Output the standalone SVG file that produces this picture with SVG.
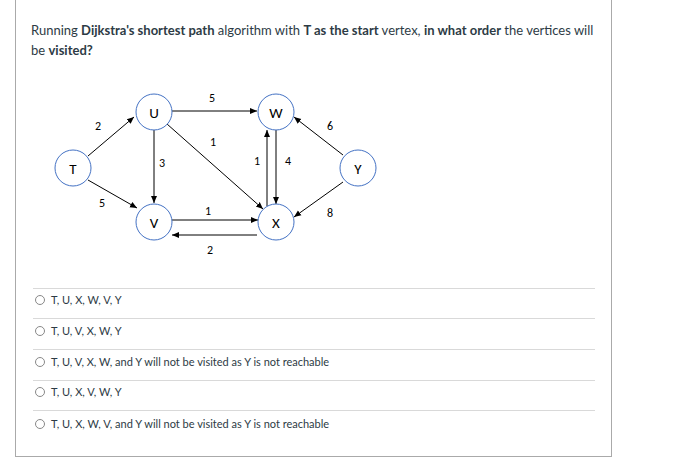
<svg xmlns="http://www.w3.org/2000/svg" width="674" height="461" viewBox="0 0 674 461">
<style>
.q{font-family:Lato,"Liberation Sans",sans-serif;font-size:13px;fill:#2d3b45}
.o{font-family:Lato,"Liberation Sans",sans-serif;font-size:11px;fill:#2d3b45}
.n circle{fill:#fff;stroke:#4472c4;stroke-width:1}
.n text,.l{font-family:Calibri,Carlito,"Liberation Sans",sans-serif;text-anchor:middle}
.n text{font-size:15px;fill:#000}
.l{font-size:12px;fill:#000}
.e line{stroke:#000;stroke-width:1;marker-end:url(#a)}
.sep{stroke:#d9d9d9;stroke-width:1}
.r{fill:#fff;stroke:#888;stroke-width:1}
</style>
<defs><marker id="a" markerWidth="8" markerHeight="8" refX="7" refY="4" orient="auto" markerUnits="userSpaceOnUse"><path d="M0,1 L7,4 L0,7z" fill="#000"/></marker></defs>
<rect x="0" y="0" width="674" height="461" fill="#fff"/>
<rect x="15.5" y="-2" width="596" height="458.5" fill="none" stroke="#aaa"/>
<text class="q" x="31" y="35">Running <tspan font-weight="bold">Dijkstra's shortest path</tspan> algorithm with <tspan font-weight="bold">T as the start</tspan> vertex, <tspan font-weight="bold">in what order</tspan> the vertices will</text>
<text class="q" x="31" y="55">be <tspan font-weight="bold">visited?</tspan></text>
<g id="edges" class="e">
<line x1="88" y1="156" x2="134" y2="117"/>
<line x1="88" y1="180" x2="137" y2="208"/>
<line x1="154" y1="130" x2="154" y2="203"/>
<line x1="172" y1="111" x2="257" y2="111"/>
<line x1="167" y1="124" x2="263" y2="209"/>
<line x1="172" y1="220" x2="258" y2="220"/>
<line x1="257" y1="235" x2="172" y2="235"/>
<line x1="267" y1="206" x2="267" y2="130"/>
<line x1="276" y1="130" x2="276" y2="204"/>
<line x1="343" y1="155" x2="294" y2="117"/>
<line x1="343" y1="182" x2="294" y2="217"/>
</g>
<g id="labels">
<text class="l" x="98" y="130">2</text>
<text class="l" x="102" y="207">5</text>
<text class="l" x="162" y="167">3</text>
<text class="l" x="212" y="102">5</text>
<text class="l" x="213" y="146">1</text>
<text class="l" x="208" y="215">1</text>
<text class="l" x="210" y="254">2</text>
<text class="l" x="257" y="165">1</text>
<text class="l" x="288" y="165">4</text>
<text class="l" x="330" y="130">6</text>
<text class="l" x="330" y="217">8</text>
</g>
<g id="T" class="n"><circle cx="73" cy="168" r="18"/><text x="73" y="174">T</text></g>
<g id="U" class="n"><circle cx="154" cy="112" r="18"/><text x="154" y="118">U</text></g>
<g id="W" class="n"><circle cx="276" cy="112" r="18"/><text x="276" y="118">W</text></g>
<g id="V" class="n"><circle cx="154" cy="222" r="18"/><text x="154" y="228">V</text></g>
<g id="X" class="n"><circle cx="276" cy="222" r="18"/><text x="276" y="228">X</text></g>
<g id="Y" class="n"><circle cx="358" cy="168" r="18"/><text x="358" y="174">Y</text></g>
<g id="options">
<line class="sep" x1="33" y1="288.5" x2="595" y2="288.5"/>
<line class="sep" x1="33" y1="318.5" x2="595" y2="318.5"/>
<line class="sep" x1="33" y1="349.5" x2="595" y2="349.5"/>
<line class="sep" x1="33" y1="380.5" x2="595" y2="380.5"/>
<line class="sep" x1="33" y1="410.5" x2="595" y2="410.5"/>
<circle class="r" cx="40" cy="300" r="4.5"/><text class="o" x="51" y="304">T, U, X, W, V, Y</text>
<circle class="r" cx="40" cy="331" r="4.5"/><text class="o" x="51" y="335">T, U, V, X, W, Y</text>
<circle class="r" cx="40" cy="362" r="4.5"/><text class="o" x="51" y="366">T, U, V, X, W, and Y will not be visited as Y is not reachable</text>
<circle class="r" cx="40" cy="392" r="4.5"/><text class="o" x="51" y="396">T, U, X, V, W, Y</text>
<circle class="r" cx="40" cy="424" r="4.5"/><text class="o" x="51" y="428">T, U, X, W, V, and Y will not be visited as Y is not reachable</text>
</g>
</svg>
